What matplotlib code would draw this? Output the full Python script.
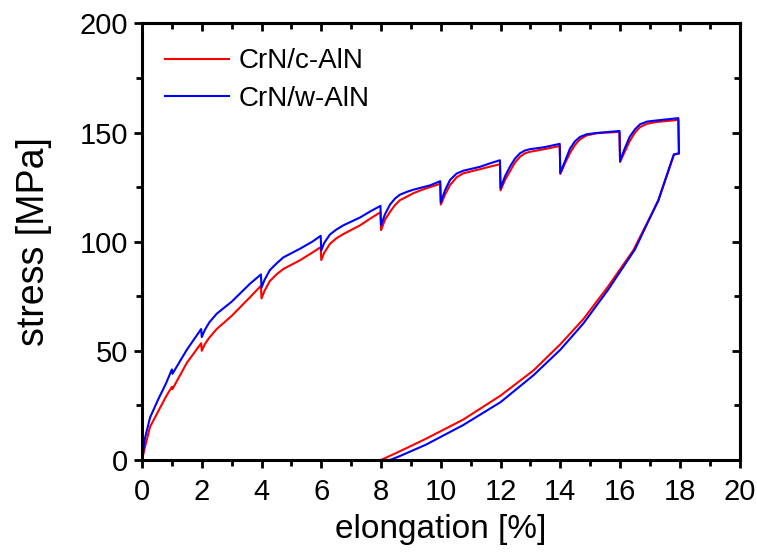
import matplotlib
matplotlib.use("Agg")
import matplotlib.pyplot as plt
from matplotlib.ticker import MultipleLocator

# ---- data ----
red_x = [0, 0.1, 0.27, 0.55, 0.8, 1.0, 1.02, 1.5, 1.98, 2.0,
         2.1, 2.25, 2.5, 3.0, 3.61, 3.98, 4.0,
         4.1, 4.28, 4.5, 4.73, 5.29, 5.7, 5.98, 6.0,
         6.1, 6.29, 6.5, 6.74, 7.3, 7.63, 7.98, 8.0,
         8.13, 8.3, 8.47, 8.63, 8.86, 9.08, 9.36, 9.64, 9.98, 10.0,
         10.14, 10.31, 10.53, 10.75, 11.31, 11.65, 11.98, 12.0,
         12.15, 12.32, 12.48, 12.65, 12.82, 12.99, 13.43, 13.98, 14.0,
         14.16, 14.32, 14.49, 14.66, 14.88, 15.22, 15.98, 16.0,
         16.15, 16.32, 16.5, 16.67, 16.9, 17.2, 17.95, 17.97,
         17.8, 17.28, 16.44, 15.6, 14.77, 14.0, 13.1, 12.0, 10.75, 9.5, 8.6, 8.0]
red_y = [0, 6, 15.2, 22.5, 29, 33.5, 32.5, 44.5, 53.5, 50,
         53, 56, 60, 66, 74.5, 79.8, 74,
         77.5, 82, 85, 87.5, 91.5, 95, 97.5, 91.6,
         95, 99, 101.5, 103.5, 107.5, 110.5, 113.5, 105.3,
         110, 113.7, 116.8, 119, 120.6, 122.2, 123.7, 125, 126.5, 117,
         121.5, 126, 129.5, 131.3, 133.2, 134.4, 135.5, 123.5,
         128.3, 132.4, 136.2, 138.9, 140.5, 141.2, 142.3, 143.8, 131,
         136, 140.5, 144.3, 146.9, 148.7, 149.7, 150.3, 136.5,
         141, 146, 150, 152.5, 154, 154.8, 155.8, 140.3,
         139.8, 118.7, 96, 79.5, 64.5, 53, 41, 29.5, 18.5, 9.7, 3.8, 0]

blue_x = [0, 0.1, 0.27, 0.55, 0.8, 1.0, 1.02, 1.5, 1.98, 2.0,
          2.1, 2.25, 2.5, 3.0, 3.61, 3.98, 4.0,
          4.1, 4.28, 4.5, 4.73, 5.29, 5.7, 5.98, 6.0,
          6.1, 6.29, 6.5, 6.74, 7.3, 7.63, 7.98, 8.0,
          8.13, 8.3, 8.47, 8.63, 8.86, 9.08, 9.36, 9.64, 9.98, 10.0,
          10.14, 10.31, 10.53, 10.75, 11.31, 11.65, 11.98, 12.0,
          12.15, 12.32, 12.48, 12.65, 12.82, 12.99, 13.43, 13.98, 14.0,
          14.16, 14.32, 14.49, 14.66, 14.88, 15.22, 15.98, 16.0,
          16.15, 16.32, 16.5, 16.67, 16.9, 17.2, 17.95, 17.97,
          17.8, 17.28, 16.5, 15.6, 14.77, 14.0, 13.1, 12.0, 10.75, 9.5, 8.63, 8.3, 8.0]
blue_y = [0, 10, 19.5, 28, 35, 41.5, 39.5, 50.5, 60, 56.3,
          59.5, 63, 67, 72.5, 80.7, 85, 79,
          82.5, 87, 90, 92.8, 96.8, 100, 102.7, 96,
          99.5, 103.3, 105.5, 107.5, 111.1, 113.8, 116.4, 107.5,
          112.5, 117, 119.8, 121.5, 122.8, 123.8, 124.8, 125.8, 127.7, 118,
          123.5, 128.3, 131.2, 132.5, 134.3, 135.9, 137.3, 124.5,
          130, 134.5, 138, 140.5, 141.8, 142.4, 143.2, 144.8, 131.5,
          137, 142.5, 146, 148, 149.2, 149.8, 150.7, 137,
          142.5, 148, 151.5, 153.8, 155, 155.5, 156.6, 140.5,
          140, 119, 96.5, 78, 62.5, 50.5, 38.8, 26.5, 16, 7, 1.8, 0, 0]

labels = ["CrN/c-AlN", "CrN/w-AlN"]
colors = ["#ff0000", "#0000ff"]

plt.rcParams['font.family'] = ['Liberation Sans', 'DejaVu Sans']

fig = plt.figure(figsize=(7.57, 5.54), dpi=100)
ax = fig.add_axes([0.1876, 0.1697, 0.977 - 0.1876, 0.9578 - 0.1697])

ax.plot(red_x, red_y, color=colors[0], lw=1.5, label=labels[0])
ax.plot(blue_x, blue_y, color=colors[1], lw=1.5, label=labels[1])

ax.set_xlim(0, 20)
ax.set_ylim(0, 200)
ax.xaxis.set_major_locator(MultipleLocator(2))
ax.xaxis.set_minor_locator(MultipleLocator(1))
ax.yaxis.set_major_locator(MultipleLocator(50))
ax.yaxis.set_minor_locator(MultipleLocator(25))

for s in ax.spines.values():
    s.set_linewidth(2.2)

ax.tick_params(which='both', direction='out', width=2, labelsize=21, top=False, right=False)
ax.tick_params(which='major', length=6)
ax.tick_params(which='minor', length=4)
ax.tick_params(axis='x', pad=7)
ax.tick_params(axis='y', pad=4)

# mirrored inward ticks on top and right
secx = ax.secondary_xaxis('top')
secx.xaxis.set_major_locator(MultipleLocator(2))
secx.xaxis.set_minor_locator(MultipleLocator(1))
secx.tick_params(which='both', direction='in', width=2, labeltop=False)
secx.tick_params(which='major', length=6)
secx.tick_params(which='minor', length=4)
secx.spines['top'].set_linewidth(2.2)
secy = ax.secondary_yaxis('right')
secy.yaxis.set_major_locator(MultipleLocator(50))
secy.yaxis.set_minor_locator(MultipleLocator(25))
secy.tick_params(which='both', direction='in', width=2, labelright=False)
secy.tick_params(which='major', length=6)
secy.tick_params(which='minor', length=4)
secy.spines['right'].set_linewidth(2.2)

ax.set_xlabel("elongation [%]", fontsize=24, labelpad=6)
ax.set_ylabel("stress [MPa]", fontsize=27, labelpad=20)

ax.legend(loc='upper left', bbox_to_anchor=(0.02, 0.968), frameon=False,
          fontsize=20, handlelength=2.3, handletextpad=0.35, labelspacing=0.42,
          borderaxespad=0)

fig.savefig("out.png", dpi=100)
